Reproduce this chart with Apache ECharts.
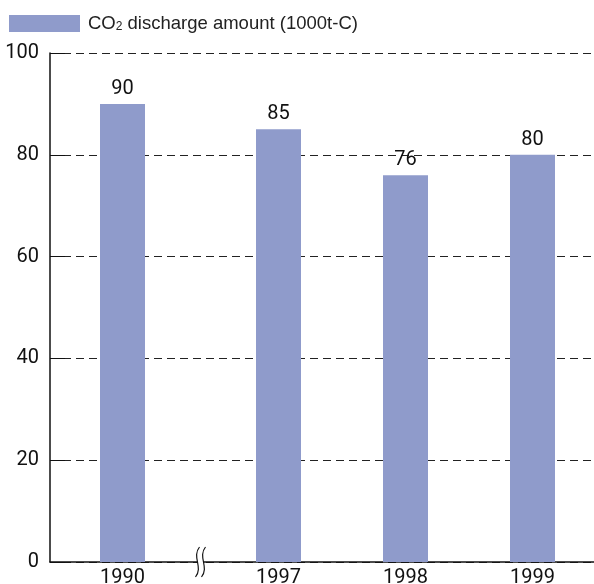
<!DOCTYPE html>
<html>
<head>
<meta charset="utf-8">
<script src="https://cdn.jsdelivr.net/npm/echarts@6/dist/echarts.min.js"></script>
<style>html,body{margin:0;padding:0;background:#fff}#c{width:594px;height:584px}</style>
</head>
<body>
<div id="c"></div>
<script>
var categories = ['1990', '1997', '1998', '1999'];
var co2Values = [90, 85, 76, 80];
var seriesName = 'CO2 discharge amount (1000t-C)';
var yTicks = [0, 20, 40, 60, 80, 100];
var breakAfter = 1; // axis break after the first category

var numFont = 'Roboto, sans-serif';
var chart = echarts.init(document.getElementById('c'));
var barColor = '#8f9bcb';
var yMin = yTicks[0], yMax = yTicks[yTicks.length - 1];

var gridBase = { top: 53, bottom: 22, containLabel: false, outerBoundsMode: 'none' };
function g(extra) { return Object.assign({}, gridBase, extra); }

var catLabel = { color: '#111', fontFamily: numFont, fontSize: 20, margin: 6 };
var barLabel = { show: true, position: 'top', distance: 5, color: '#111', fontFamily: numFont, fontSize: 20 };

var option = {
  animation: false,
  backgroundColor: '#fff',
  legend: {
    left: 9, top: 14, padding: 0,
    itemWidth: 71, itemHeight: 17,
    icon: 'rect',
    data: [seriesName],
    formatter: function () { return '{a|CO}{b|2}{a| discharge amount (1000t-C)}'; },
    textStyle: {
      padding: [0, 0, 0, 3],
      rich: {
        a: { fontFamily: 'Liberation Sans', fontSize: 18.5, color: '#222' },
        b: { fontFamily: 'Liberation Sans', fontSize: 12, color: '#222', padding: [6, 0, 0, 0] }
      }
    }
  },
  grid: [
    g({ left: 50, right: 0 }),
    g({ left: 50, width: 145 }),
    g({ left: 215, right: -2 })
  ],
  xAxis: [
    {
      gridIndex: 0, type: 'value', min: 0, max: 1,
      axisLine: { show: true, onZero: false, lineStyle: { color: '#111', width: 1.5 } },
      axisTick: { show: false }, axisLabel: { show: false }, splitLine: { show: false }
    },
    {
      gridIndex: 1, type: 'category', data: categories.slice(0, breakAfter),
      axisLine: { show: false }, axisTick: { show: false }, axisLabel: catLabel
    },
    {
      gridIndex: 2, type: 'category', data: categories.slice(breakAfter),
      axisLine: { show: false }, axisTick: { show: false }, axisLabel: catLabel
    }
  ],
  yAxis: [
    {
      gridIndex: 0, type: 'value', min: yMin, max: yMax, interval: 20,
      axisLine: { show: true, lineStyle: { color: '#111', width: 1.5 } },
      axisTick: { show: true, inside: true, length: 15, lineStyle: { color: '#111', width: 1 } },
      axisLabel: { color: '#111', fontFamily: numFont, fontSize: 20, margin: 11 },
      splitLine: { show: true, lineStyle: { color: '#222', width: 1, type: [8, 5] } }
    },
    { gridIndex: 1, type: 'value', min: yMin, max: yMax, show: false, splitLine: { show: false } },
    { gridIndex: 2, type: 'value', min: yMin, max: yMax, show: false, splitLine: { show: false } }
  ],
  series: [
    {
      name: seriesName, type: 'bar', xAxisIndex: 1, yAxisIndex: 1,
      data: co2Values.slice(0, breakAfter), barWidth: 45,
      itemStyle: { color: barColor }, label: barLabel
    },
    {
      name: seriesName, type: 'bar', xAxisIndex: 2, yAxisIndex: 2,
      data: co2Values.slice(breakAfter), barWidth: 45,
      itemStyle: { color: barColor }, label: barLabel
    }
  ]
};
chart.setOption(option);

// axis break symbol between the two panels
var p0 = chart.convertToPixel({ xAxisIndex: 1 }, categories[breakAfter - 1]);
var p1 = chart.convertToPixel({ xAxisIndex: 2 }, categories[breakAfter]);
var yb = chart.convertToPixel({ yAxisIndex: 0 }, 0);
var mx = (p0 + p1) / 2;
function wave(dx) {
  var x = mx + dx;
  return {
    type: 'bezierCurve',
    shape: { x1: x + 2, y1: yb - 15, cpx1: x - 6, cpy1: yb - 5, cpx2: x + 6, cpy2: yb + 5, x2: x - 2, y2: yb + 15 },
    style: { stroke: '#111', lineWidth: 1.2, fill: null },
    z: 101
  };
}
chart.setOption({
  graphic: [
    { type: 'rect', shape: { x: mx - 3, y: yb - 3, width: 6, height: 6 }, style: { fill: '#fff' }, z: 100 },
    wave(-3),
    wave(3)
  ]
});
</script>
</body>
</html>
